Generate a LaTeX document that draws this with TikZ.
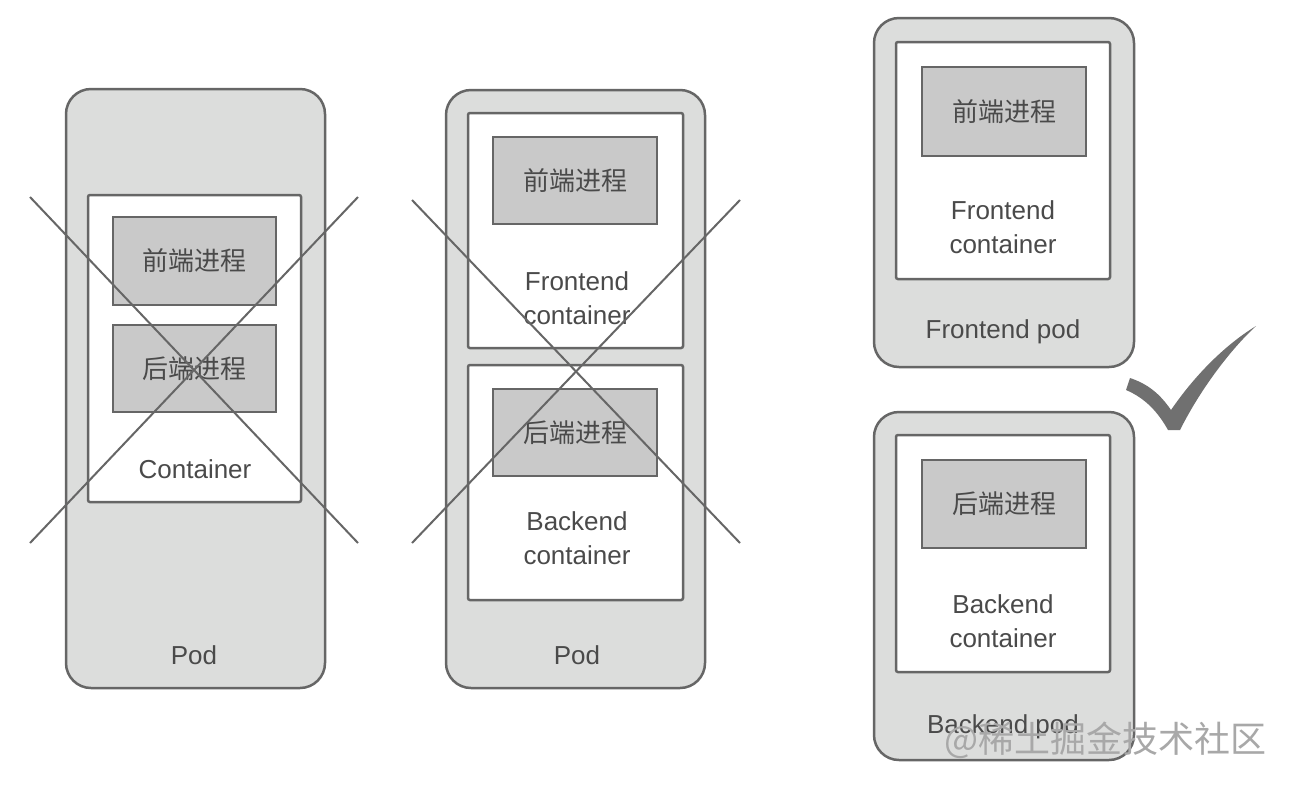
\documentclass[tikz,border=0pt]{standalone}
\usepackage{fontspec}
\setmainfont{Liberation Sans}
\newfontfamily\cjk{Noto Sans CJK SC}
\definecolor{podfill}{HTML}{DCDDDC}
\definecolor{procfill}{HTML}{C9C9C9}
\definecolor{edge}{HTML}{666666}
\definecolor{txt}{HTML}{4A4A4A}
\definecolor{wm}{HTML}{A8A8A8}
\definecolor{tick}{HTML}{707070}
\tikzset{
  podbox/.style={draw=edge, fill=podfill, line width=2.5pt, rounded corners=25pt, inner sep=0pt},
  ctbox/.style={draw=edge, fill=white, line width=2.5pt, rounded corners=2pt, inner sep=0pt},
  procbox/.style={draw=edge, fill=procfill, line width=2.5pt, inner sep=0pt, font=\cjk\fontsize{26}{34}\selectfont, text=txt},
  lbl/.style={inner sep=0pt, align=center, text=txt, font=\fontsize{26}{34}\selectfont},
  cross/.style={draw=edge, line width=2pt},
}
\begin{document}
\begin{tikzpicture}[x=1pt,y=-1pt]
\useasboundingbox (0,0) rectangle (1306,796);
\fill[white] (0,0) rectangle (1306,796);

% ---- Pod 1 ----
\node[podbox, minimum width=259pt, minimum height=599pt] (pod1) at (195.5,388.5) {};
\node[ctbox, minimum width=213pt, minimum height=307pt] (ct1) at (194.5,348.5) {};
\node[procbox, minimum width=163pt, minimum height=88pt] (p1a) at (194.5,261) {前端进程};
\node[procbox, minimum width=163pt, minimum height=87pt] (p1b) at (194.5,368.5) {后端进程};
\node[lbl] (ct1l) at (195,469) {Container};
\node[lbl] (pod1l) at (194,655) {Pod};
\coordinate (x1a) at (30,197);
\coordinate (x1b) at (358,543);
\coordinate (x1c) at (358,197);
\coordinate (x1d) at (30,543);
\draw[cross] (x1a) -- (x1b);
\draw[cross] (x1c) -- (x1d);

% ---- Pod 2 ----
\node[podbox, minimum width=259pt, minimum height=598pt] (pod2) at (575.5,389) {};
\node[ctbox, minimum width=215pt, minimum height=235pt] (ct2f) at (575.5,230.5) {};
\node[procbox, minimum width=164pt, minimum height=87pt] (p2f) at (575,180.5) {前端进程};
\node[lbl] (ct2fl) at (577,298) {Frontend\\container};
\node[ctbox, minimum width=215pt, minimum height=235pt] (ct2b) at (575.5,482.5) {};
\node[procbox, minimum width=164pt, minimum height=87pt] (p2b) at (575,432.5) {后端进程};
\node[lbl] (ct2bl) at (577,538) {Backend\\container};
\node[lbl] (pod2l) at (577,655) {Pod};
\coordinate (x2a) at (412,200);
\coordinate (x2b) at (740,543);
\coordinate (x2c) at (740,200);
\coordinate (x2d) at (412,543);
\draw[cross] (x2a) -- (x2b);
\draw[cross] (x2c) -- (x2d);

% ---- Frontend pod ----
\node[podbox, minimum width=260pt, minimum height=349pt] (fpod) at (1004,192.5) {};
\node[ctbox, minimum width=214pt, minimum height=237pt] (fct) at (1003,160.5) {};
\node[procbox, minimum width=164pt, minimum height=89pt] (fp) at (1004,111.5) {前端进程};
\node[lbl] (fctl) at (1003,227.5) {Frontend\\container};
\node[lbl] (fpodl) at (1003,332) {Frontend pod};

% ---- Backend pod ----
\node[podbox, minimum width=260pt, minimum height=348pt] (bpod) at (1004,586) {};
\node[ctbox, minimum width=214pt, minimum height=237pt] (bct) at (1003,553.5) {};
\node[procbox, minimum width=164pt, minimum height=88pt] (bp) at (1004,504) {后端进程};
\node[lbl] (bctl) at (1003,621) {Backend\\container};
\node[lbl] (bpodl) at (1003,727) {Backend pod};

% ---- check mark ----
\fill[tick] (1126,390) -- (1130,378)
  .. controls (1148,384) and (1160,394) .. (1171,410)
  .. controls (1195,375) and (1225,345) .. (1256,326)
  .. controls (1230,350) and (1200,390) .. (1180,430)
  -- (1168,430)
  .. controls (1158,412) and (1145,398) .. cycle;

% ---- watermark ----
\node[inner sep=0pt, text=wm, font=\cjk\fontsize{36}{40}\selectfont, anchor=west] (wmark) at (944,740) {@稀土掘金技术社区};
\end{tikzpicture}
\end{document}
